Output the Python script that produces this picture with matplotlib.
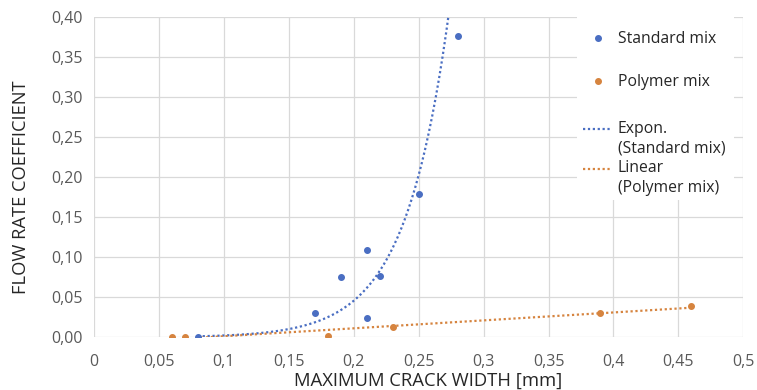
import numpy as np
import matplotlib
matplotlib.use("Agg")
import matplotlib.pyplot as plt
from matplotlib.ticker import FuncFormatter
from matplotlib.patches import Rectangle
from matplotlib.legend_handler import HandlerLine2D

plt.rcParams['font.family'] = ['Open Sans', 'DejaVu Sans']

std_x = [0.08, 0.17, 0.19, 0.21, 0.21, 0.22, 0.25, 0.28]
std_y = [0.0008, 0.031, 0.076, 0.109, 0.024, 0.077, 0.179, 0.376]
poly_x = [0.06, 0.07, 0.18, 0.23, 0.39, 0.46]
poly_y = [0.001, 0.0005, 0.002, 0.013, 0.031, 0.039]

x_ticks = [0, 0.05, 0.1, 0.15, 0.2, 0.25, 0.3, 0.35, 0.4, 0.45, 0.5]
y_ticks = [0, 0.05, 0.10, 0.15, 0.20, 0.25, 0.30, 0.35, 0.40]

blue = '#4A6EC2'
orange = '#D6843F'
text_col = '#262626'


class FirstLineHandler(HandlerLine2D):
    # put the trend line sample next to the first line of a two-line label
    def create_artists(self, legend, orig_handle, xdescent, ydescent, width, height,
                       fontsize, trans):
        arts = super().create_artists(legend, orig_handle, xdescent, ydescent, width,
                                      height, fontsize, trans)
        for a in arts:
            a.set_ydata(np.asarray(a.get_ydata()) + 0.62 * fontsize)
        return arts


def main():
    fig, ax = plt.subplots(figsize=(7.57, 3.9), dpi=100)
    fig.subplots_adjust(left=0.124, right=0.982, top=0.956, bottom=0.135)

    # exponential trend on the standard mix
    b, ln_a = np.polyfit(std_x, np.log(std_y), 1)
    tx = np.linspace(min(std_x), max(std_x), 300)
    l1, = ax.plot(tx, np.exp(ln_a) * np.exp(b * tx), ls=(0, (1, 1.2)), color=blue, lw=1.6,
                  zorder=2)

    # linear trend on the polymer mix
    m, c = np.polyfit(poly_x, poly_y, 1)
    lx = np.linspace(min(poly_x), max(poly_x), 100)
    l2, = ax.plot(lx, m * lx + c, ls=(0, (1, 1.2)), color=orange, lw=1.6, zorder=2)

    s1 = ax.scatter(std_x, std_y, s=16, color=blue, zorder=3)
    s2 = ax.scatter(poly_x, poly_y, s=16, color=orange, zorder=3)

    ax.set_xlim(0, 0.5)
    ax.set_ylim(0, 0.40)
    ax.set_xticks(x_ticks)
    ax.set_yticks(y_ticks)
    ax.xaxis.set_major_formatter(FuncFormatter(lambda v, p: ('%g' % round(v, 2)).replace('.', ',')))
    ax.yaxis.set_major_formatter(FuncFormatter(lambda v, p: ('%.2f' % v).replace('.', ',')))
    ax.tick_params(length=0, labelsize=11.5, colors='#595959')
    ax.tick_params(axis='x', pad=12)
    ax.tick_params(axis='y', pad=8)
    ax.grid(True, color='#d9d9d9', lw=0.9)
    ax.set_axisbelow(True)
    for s in ax.spines.values():
        s.set_visible(False)

    ax.set_xlabel('MAXIMUM CRACK WIDTH [mm]', fontsize=13.3, color=text_col, labelpad=1)
    ax.set_ylabel('FLOW RATE COEFFICIENT', fontsize=13.2, color=text_col, labelpad=15.5)
    ax.xaxis.label.set_x(0.515)
    ax.yaxis.label.set_y(0.469)

    # white box behind the legend
    ax.add_patch(Rectangle((0.744, 0.43), 0.241, 0.57, transform=ax.transAxes,
                           facecolor='white', edgecolor='none', zorder=4))

    kw = dict(loc='upper left', frameon=False, fontsize=11.3, handlelength=1.85,
              handletextpad=0.35, borderpad=0, borderaxespad=0)
    leg1 = ax.legend([s1, s2], ['Standard mix', 'Polymer mix'],
                     bbox_to_anchor=(0.7535, 0.958), labelspacing=1.72, **kw)
    leg1.set_zorder(5)
    for t in leg1.get_texts():
        t.set_color(text_col)
    ax.add_artist(leg1)

    leg2 = ax.legend([l1, l2], ['Expon.\n(Standard mix)', 'Linear\n(Polymer mix)'],
                     bbox_to_anchor=(0.7535, 0.677), labelspacing=0.2,
                     handler_map={l1: FirstLineHandler(), l2: FirstLineHandler()}, **kw)
    leg2.set_zorder(5)
    for t in leg2.get_texts():
        t.set_color(text_col)
        t.set_linespacing(1.34)

    fig.savefig('out.png', dpi=100)


if __name__ == "__main__":
    main()
